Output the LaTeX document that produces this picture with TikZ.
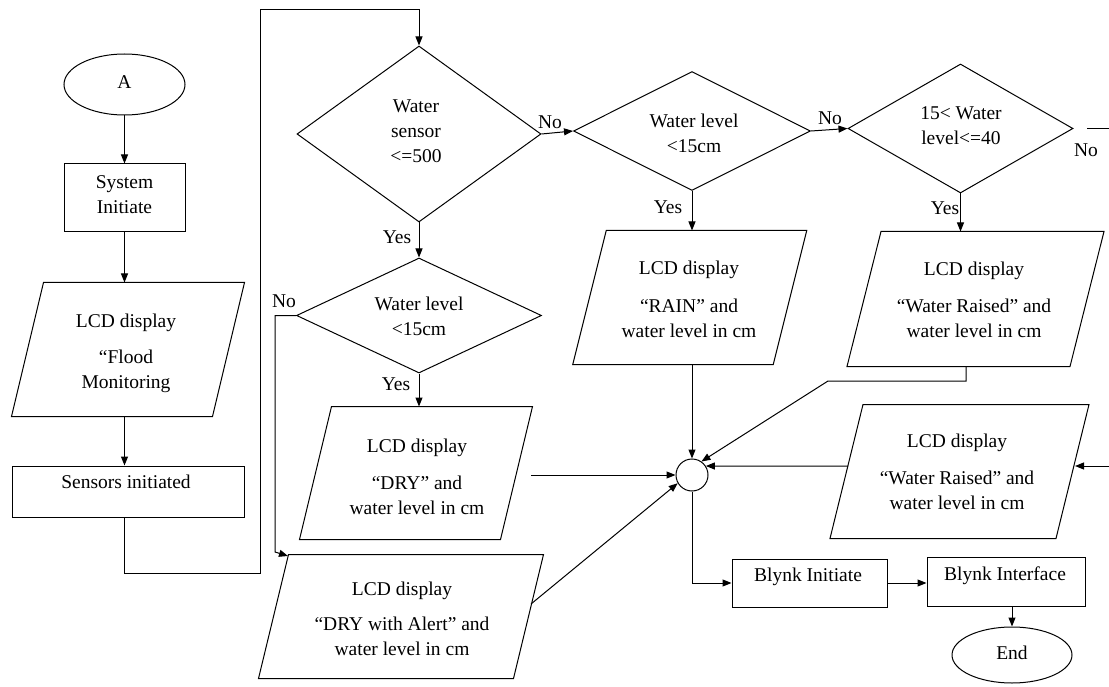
\documentclass[tikz,border=0pt]{standalone}
\usepackage{fontspec}
\setmainfont{Liberation Serif}
\usetikzlibrary{shapes.geometric,arrows.meta,calc}
% parallelogram: name, cx, cy, top width, height, slant
\newcommand\lcdshape[6]{%
  \node[inner sep=0pt, minimum width=#4pt, minimum height=#5pt] (#1) at (#2,#3) {};
  \draw ($(#1.north west)+(#6/2,0)$) -- ($(#1.north east)+(#6/2,0)$) --
        ($(#1.south east)-(#6/2,0)$) -- ($(#1.south west)-(#6/2,0)$) -- cycle;}
\begin{document}
\begin{tikzpicture}[x=1pt,y=-1pt,line width=1pt,
  every node/.style={font=\fontsize{19.5}{25}\selectfont},
  rbox/.style={draw,rectangle,inner sep=0pt},
  dia/.style={draw,diamond,inner sep=0pt},
  term/.style={draw,ellipse,inner sep=0pt},
  txt/.style={inner sep=0pt,align=center,anchor=north},
  lbl/.style={inner sep=0pt},
  arr/.style={-{Triangle[length=9pt,width=7pt]}}]
\useasboundingbox (0,0) rectangle (1109,687);

% ---------- shapes ----------
\node[term, minimum width=121pt, minimum height=61pt] (A) at (124.5,84.5) {};
\node[rbox, minimum width=121pt, minimum height=68pt] (sys) at (124.5,198) {};
\lcdshape{pFlood}{128}{349.5}{200}{133}{32}
\node[rbox, minimum width=232pt, minimum height=51pt] (sens) at (128,491.5) {};

\node[dia, minimum width=244pt, minimum height=176pt] (d1) at (419,134) {};
\node[dia, minimum width=245pt, minimum height=115pt] (d4) at (419,315.5) {};
\lcdshape{pDry}{416}{473}{200}{132}{32}
\lcdshape{pAlert}{401}{616.5}{254}{123}{30}

\node[dia, minimum width=237pt, minimum height=119pt] (d2) at (692,131) {};
\lcdshape{pRain}{689.75}{297.5}{199.5}{133}{33.5}
\node[dia, minimum width=225pt, minimum height=129pt] (d3) at (960.5,128.5) {};
\lcdshape{pRaiseA}{975.5}{299}{222}{134}{34}
\lcdshape{pRaiseB}{959.5}{471.5}{225}{133}{33}

\node[draw, circle, inner sep=0pt, minimum size=32pt] (circ) at (692,475) {};
\node[rbox, minimum width=155pt, minimum height=48pt] (bInit) at (809.5,583) {};
\node[rbox, minimum width=158pt, minimum height=49pt] (bInt) at (1006,581.5) {};
\node[term, minimum width=120pt, minimum height=56pt] (End) at (1012,655) {};

% ---------- texts ----------
\node[lbl] (tA) at (124.5,82) {A};
\node[txt] (tSys) at (124.5,175) {System\\Initiate};
\node[txt] (tFlood) at (126,313) {LCD display\\[11pt]“Flood\\Monitoring};
\node[lbl] (tSens) at (126,482) {Sensors initiated};
\node[txt] (tD1) at (416,99) {Water\\sensor\\<=500};
\node[txt] (tD4) at (419,296) {Water level\\<15cm};
\node[txt] (tD2) at (694,113) {Water level\\<15cm};
\node[txt] (tD3) at (961,106) {15< Water\\level<=40};
\node[txt] (tDry) at (417,438) {LCD display\\[12pt]“DRY” and\\water level in cm};
\node[txt] (tAlert) at (402,581) {LCD display\\[10pt]“DRY with Alert” and\\water level in cm};
\node[txt] (tRain) at (689,260) {LCD display\\[13pt]“RAIN” and\\water level in cm};
\node[txt] (tRaiseA) at (974,261) {LCD display\\[12pt]“Water Raised” and\\water level in cm};
\node[txt] (tRaiseB) at (957,433) {LCD display\\[12pt]“Water Raised” and\\water level in cm};
\node[lbl] (tInit) at (808,577) {Blynk Initiate};
\node[lbl] (tInt) at (1005,576) {Blynk Interface};
\node[lbl] (tEnd) at (1012,653) {End};

% ---------- labels ----------
\node[lbl] (no1) at (550,122) {No};
\node[lbl] (no2) at (830,118) {No};
\node[lbl] (no3) at (1086,150) {No};
\node[lbl] (no4) at (284,301) {No};
\node[lbl] (yes1) at (397,237) {Yes};
\node[lbl] (yes2) at (396,384) {Yes};
\node[lbl] (yes3) at (668,207) {Yes};
\node[lbl] (yes4) at (945,208) {Yes};

% ---------- helper coordinates ----------
\coordinate (c1) at (260,573);
\coordinate (c2) at (260,10);
\coordinate (c3) at (275,315.5);
\coordinate (c4) at (275,552);
\coordinate (c5) at (288,556);
\coordinate (c6) at (1087,128.5);
\coordinate (c7) at (1109,128.5);
\coordinate (c8) at (966,381);
\coordinate (c9) at (828,381);
\coordinate (c10) at (848,466);
\coordinate (c11) at (1109,466);
\coordinate (c12) at (1075,466);
\coordinate (c13) at (531,475);
\coordinate (c14) at (531,604);

% ---------- connectors ----------
\draw[arr] (A.south) -- (sys.north);
\draw[arr] (sys.south) -- (sys.south |- pFlood.north);
\draw[arr] (sys.south |- pFlood.south) -- (sys.south |- sens.north);
\draw[arr] (sys.south |- sens.south) |- (c1) -- (c2) -| (d1.north);
\draw[arr] (d1.south) -- (d4.north);
\draw[arr] (d4.south) -- (d4.south |- pDry.north);
\draw[arr] (d4.west) -- (c3) -- (c4) -- (c5);
\draw[arr] (d1.east) -- (d2.west);
\draw[arr] (d2.east) -- (d3.west);
\draw (c6) -- (c7);
\draw[arr] (d2.south) -- (d2.south |- pRain.north);
\draw[arr] (d3.south) -- (d3.south |- pRaiseA.north);
\draw[arr] (d2.south |- pRain.south) -- (circ.north);
\draw[arr] (c8 |- pRaiseA.south) -- (c8) -- (c9) -- (circ.55);
\draw[arr] (c10) -- (circ.33);
\draw[arr] (c11) -- (c12);
\draw[arr] (c13) -- (circ.west);
\draw[arr] (c14) -- (circ.210);
\draw[arr] (circ.south) |- (bInit.west);
\draw[arr] (bInit.east) -- (bInit.east -| bInt.west);
\draw[arr] (End.north |- bInt.south) -- (End.north);
\end{tikzpicture}
\end{document}
